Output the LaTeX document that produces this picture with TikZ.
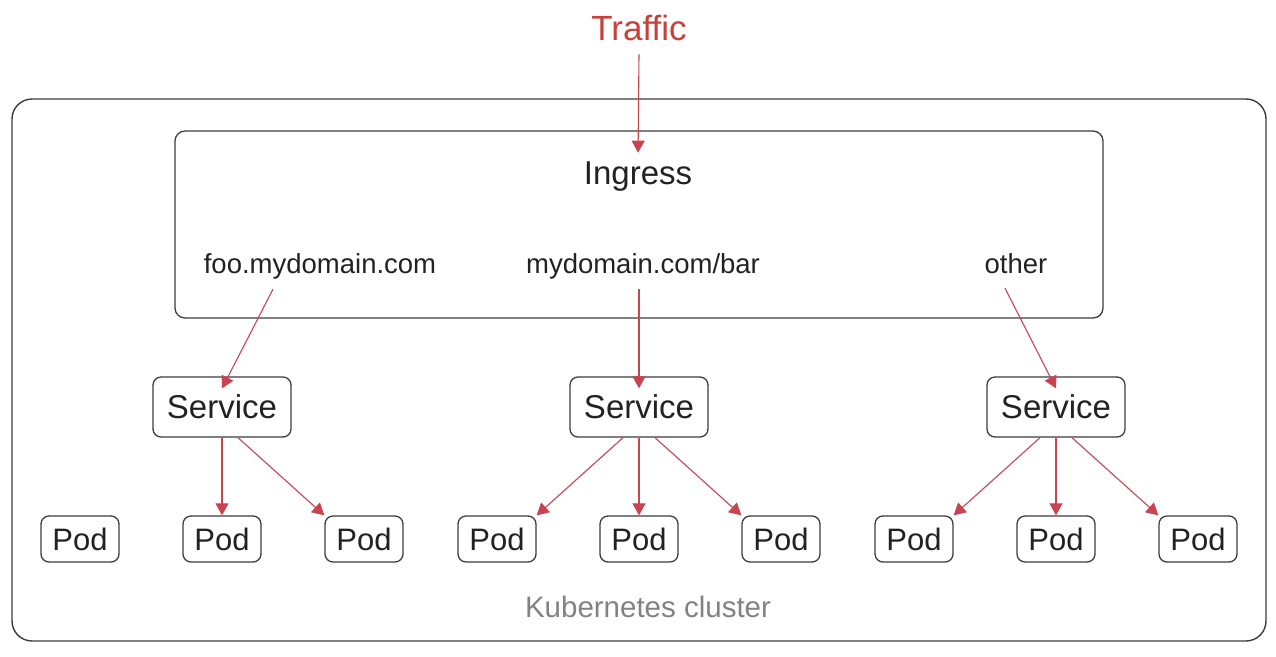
\documentclass[tikz,border=0pt]{standalone}
\usepackage{fontspec}
\setmainfont{Liberation Sans}
\usetikzlibrary{arrows.meta}
\definecolor{trafficred}{RGB}{200,64,58}
\definecolor{linkred}{RGB}{201,67,82}
\definecolor{boxgray}{RGB}{60,60,60}
\definecolor{clustergray}{RGB}{130,130,130}
\definecolor{inkblack}{RGB}{34,34,34}
\tikzset{
	svcbox/.style={draw=boxgray,line width=1.3pt,rounded corners=8pt,
		minimum width=138pt,minimum height=60pt,inner sep=0pt,
		text=inkblack,font=\fontsize{33}{39}\selectfont},
	podbox/.style={draw=boxgray,line width=1.3pt,rounded corners=8pt,
		minimum width=78pt,minimum height=46pt,inner sep=0pt,
		text=inkblack,font=\fontsize{31}{37}\selectfont},
	hostlabel/.style={anchor=base,inner sep=0pt,text height=20pt,text depth=6pt,
		text=inkblack,font=\fontsize{27.5}{33}\selectfont},
	link/.style={->,draw=linkred,line width=1.1pt}
}
\begin{document}
\begin{tikzpicture}[>={Triangle[length=12pt,width=13pt]},x=1pt,y=-1pt]
\useasboundingbox (0,0) rectangle (1276,656);
\draw[boxgray,line width=1.4pt,rounded corners=20pt] (12,99) rectangle (1266,641);
\draw[boxgray,line width=1.3pt,rounded corners=10pt] (175,131) rectangle (1103,318);
\node (traffic) at (639,28) [text=trafficred,font=\fontsize{35}{41}\selectfont] {Traffic};
\node (ingress) at (638,177) [text=inkblack,font=\fontsize{33}{39}\selectfont] {Ingress};
\node (cluster) at (648,607) [text=clustergray,font=\fontsize{29.5}{35}\selectfont] {Kubernetes cluster};
\node (foo) at (320,273) [hostlabel] {foo.mydomain.com};
\node (bar) at (643,273) [hostlabel] {mydomain.com/bar};
\node (other) at (1016,273) [hostlabel] {other};
\foreach \x/\n in {222/svcA,639/svcB,1056/svcC}{
\node (\n) at (\x,407) [svcbox] {Service};
};
\foreach \x/\n in {80/podA0,222/podA1,364/podA2,497/podB0,639/podB1,781/podB2,914/podC0,1056/podC1,1198/podC2}{
\node (\n) at (\x,539) [podbox] {Pod};
};
\draw[link,shorten >=6pt] ([yshift=-10pt]traffic.south)--(ingress.north);
\draw[link] ([xshift=-47pt,yshift=-10pt]foo.south)--([yshift=-12pt]svcA.north);
\draw[link] ([yshift=-10pt]bar.south -| svcB.north)--([yshift=-12pt]svcB.north);
\draw[link] ([xshift=-11pt,yshift=-9pt]other.south)--([yshift=-12pt]svcC.north);
\draw[link] (svcA.south)--(podA1.north);
\draw[link] ([xshift=16pt]svcA.south)--(podA2.north west);
\foreach \s/\p in {svcB/podB,svcC/podC}{
\draw[link] ([xshift=-16pt]\s.south)--(\p0.north east);
\draw[link] (\s.south)--(\p1.north);
\draw[link] ([xshift=16pt]\s.south)--(\p2.north west);
};
\end{tikzpicture}
\end{document}
